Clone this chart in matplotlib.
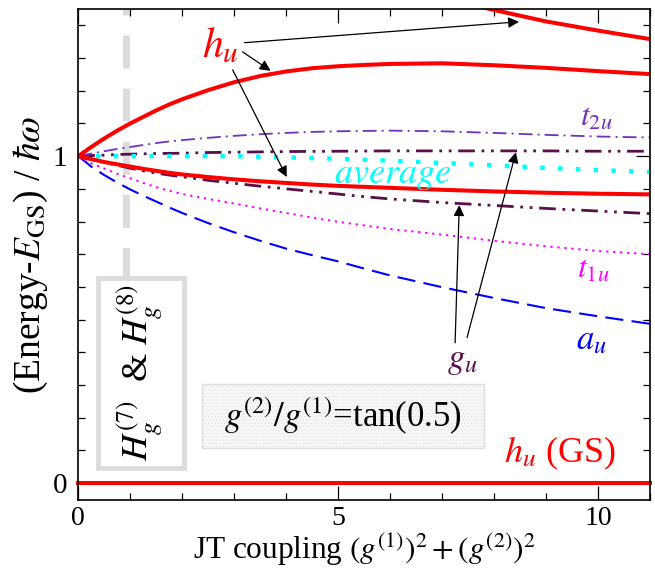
import matplotlib

matplotlib.use("Agg")
import matplotlib.pyplot as plt
from matplotlib.patches import Rectangle
from matplotlib.ticker import MultipleLocator, FixedLocator

# x grid (JT coupling) and level energies
x = [0, 0.25, 0.5, 0.75, 1, 1.25, 1.5, 1.75, 2, 2.5, 3, 3.5, 4, 4.5, 5, 5.5,
     6, 7, 8, 9, 10, 11]

hu_upper = [1.0, 1.028, 1.054, 1.078, 1.10, 1.12, 1.14, 1.158, 1.174, 1.202,
            1.226, 1.245, 1.259, 1.269, 1.275, 1.279, 1.282, 1.284, 1.278,
            1.270, 1.260, 1.251]
t2u = [1.0, 1.008, 1.015, 1.022, 1.028, 1.034, 1.04, 1.045, 1.049, 1.056,
       1.062, 1.067, 1.071, 1.074, 1.076, 1.077, 1.078, 1.076, 1.071, 1.065,
       1.060, 1.057]
gu_upper = [1.0, 1.002, 1.003, 1.005, 1.006, 1.007, 1.008, 1.0085, 1.009,
            1.011, 1.012, 1.013, 1.014, 1.0145, 1.015, 1.0155, 1.016, 1.016,
            1.016, 1.016, 1.015, 1.015]
average = [1.0, 1.0, 1.0, 1.0, 1.0, 1.0, 1.0, 1.0, 1.0, 1.0, 1.0, 0.998,
           0.996, 0.994, 0.992, 0.989, 0.986, 0.979, 0.972, 0.964, 0.957, 0.952]
hu_lower = [1.0, 0.991, 0.982, 0.975, 0.968, 0.961, 0.955, 0.949, 0.944, 0.936,
            0.929, 0.923, 0.918, 0.913, 0.909, 0.906, 0.903, 0.897, 0.892,
            0.888, 0.885, 0.883]
gu_lower = [1.0, 0.99, 0.981, 0.972, 0.963, 0.955, 0.948, 0.942, 0.937, 0.926,
            0.917, 0.908, 0.900, 0.892, 0.884, 0.876, 0.869, 0.858, 0.849,
            0.840, 0.832, 0.824]
t1u = [1.0, 0.978, 0.962, 0.946, 0.932, 0.918, 0.905, 0.894, 0.884, 0.869,
       0.855, 0.840, 0.826, 0.812, 0.799, 0.788, 0.777, 0.760, 0.741, 0.724,
       0.710, 0.700]
au = [1.0, 0.968, 0.942, 0.919, 0.898, 0.879, 0.861, 0.843, 0.826, 0.795,
      0.767, 0.741, 0.717, 0.697, 0.678, 0.656, 0.635, 0.599, 0.566, 0.535,
      0.510, 0.487]
gs = [0.0] * len(x)

# the highest h_u level only enters the window at the right
x_top = [7.5, 8, 9, 10, 11]
hu_top = [1.466, 1.447, 1.412, 1.384, 1.358]

gray_x = 0.92  # H_g^(7) & H_g^(8) marker

RED = "#ff0000"
T2U_COLOR = "#7030c0"
GU_COLOR = "#5a0f4c"
AVG_COLOR = "#00ffff"
T1U_COLOR = "#ff00ff"
AU_COLOR = "#0000ff"
GRAY = "#dcdcdc"

plt.rcParams.update(
    {
        "font.family": ["Liberation Serif", "DejaVu Serif"],
        "mathtext.fontset": "stix",
        "axes.linewidth": 1.2,
        "hatch.linewidth": 0.4,
    }
)

fig = plt.figure(figsize=(6.55, 5.71), dpi=100)
ax = fig.add_axes([0.1195, 0.1243, 0.8729, 0.8599])

ax.plot([gray_x, gray_x], [1.45, 0.62], color=GRAY, lw=5,
        linestyle=(3.9, (4.75, 2.9)), zorder=1)

ax.plot(x, au, color=AU_COLOR, lw=1.5, dashes=(8.7, 4))
ax.plot(x, t1u, color=T1U_COLOR, lw=1.4, dashes=(1.2, 2.4))
ax.plot(x, gu_lower, color=GU_COLOR, lw=2.0, dashes=(6, 2.4, 1, 2.4, 1, 2.4))
ax.plot(x, gu_upper, color=GU_COLOR, lw=2.0, dashes=(6, 2.4, 1, 2.4, 1, 2.4))
ax.plot(x, t2u, color=T2U_COLOR, lw=1.3, dashes=(7.7, 2.8, 1.1, 2.8))
ax.plot(x, average, color=AVG_COLOR, lw=3.2, dashes=(1, 3))
ax.plot(x, hu_lower, color=RED, lw=2.9)
ax.plot(x, hu_upper, color=RED, lw=2.9)
ax.plot(x_top, hu_top, color=RED, lw=2.9)
ax.plot(x, gs, color=RED, lw=2.9, clip_on=False)

ax.set_xlim(0, 11)
ax.set_ylim(-0.052, 1.45)

ax.xaxis.set_major_locator(FixedLocator([0, 5, 10]))
ax.xaxis.set_minor_locator(MultipleLocator(1))
ax.yaxis.set_major_locator(FixedLocator([0, 1]))
ax.yaxis.set_minor_locator(MultipleLocator(0.1))
ax.tick_params(which="both", direction="in", top=True, right=True,
               labelsize=21, width=0.9)
ax.tick_params(which="major", length=10, pad=8)
ax.tick_params(axis="x", which="major", pad=4, labelsize=20)
ax.tick_params(which="minor", length=5)

# x label pinned to the bottom edge of the figure
fig.text(0.556, 0.003, r"JT coupling $(g^{(1)})^2 + (g^{(2)})^2$",
         fontsize=22.5, ha="center", va="bottom")
ax.set_ylabel(r"(Energy-$E_{\rm GS}$) / $\hbar\omega$", fontsize=27,
              labelpad=2)

# level labels
ax.text(2.74, 1.337, r"$h_u$", color=RED, fontsize=30, ha="center", va="center")
ax.text(9.96, 1.117, r"$t_{\mathit{2u}}$", color=T2U_COLOR, fontsize=23,
        ha="center", va="center")
ax.text(6.05, 0.942, r"$average$", color=AVG_COLOR, fontsize=26,
        ha="center", va="center")
ax.text(9.91, 0.65, r"$t_{\mathit{1u}}$", color=T1U_COLOR, fontsize=23,
        ha="center", va="center")
ax.text(9.88, 0.436, r"$a_u$", color=AU_COLOR, fontsize=25,
        ha="center", va="center")
ax.text(7.39, 0.374, r"$g_u$", color=GU_COLOR, fontsize=25,
        ha="center", va="center")
ax.text(9.27, 0.092, r"$h_u$ (GS)", color=RED, fontsize=26,
        ha="center", va="center")

arrow = dict(arrowstyle="-|>", color="black", lw=0.9, mutation_scale=16,
             shrinkA=0, shrinkB=0)
ax.annotate("", xy=(8.48, 1.411), xytext=(3.20, 1.347), arrowprops=arrow)
ax.annotate("", xy=(3.70, 1.261), xytext=(3.16, 1.319), arrowprops=arrow)
ax.annotate("", xy=(4.01, 0.936), xytext=(2.97, 1.264), arrowprops=arrow)
ax.annotate("", xy=(7.33, 0.850), xytext=(7.25, 0.429), arrowprops=arrow)
ax.annotate("", xy=(8.42, 1.012), xytext=(7.48, 0.445), arrowprops=arrow)

# boxes
ax.add_patch(Rectangle((0.373, 0.046), 1.657, 0.580, facecolor="white",
                       edgecolor=GRAY, lw=3.5, zorder=3))
ax.text(1.2, 0.337, r"$H_g^{(7)}$  & $H_g^{(8)}$", rotation=90, fontsize=26,
        ha="center", va="center", zorder=4)

ax.add_patch(Rectangle((2.38, 0.107), 5.43, 0.197, facecolor="#f7f7f7",
                       edgecolor="#dddddd", hatch=".....", lw=1.0, zorder=3))
ax.text(5.09, 0.206, r"$g^{(2)}/g^{(1)}$=tan(0.5)", fontsize=25,
        ha="center", va="center", zorder=4)

fig.savefig("out.png", dpi=100)
